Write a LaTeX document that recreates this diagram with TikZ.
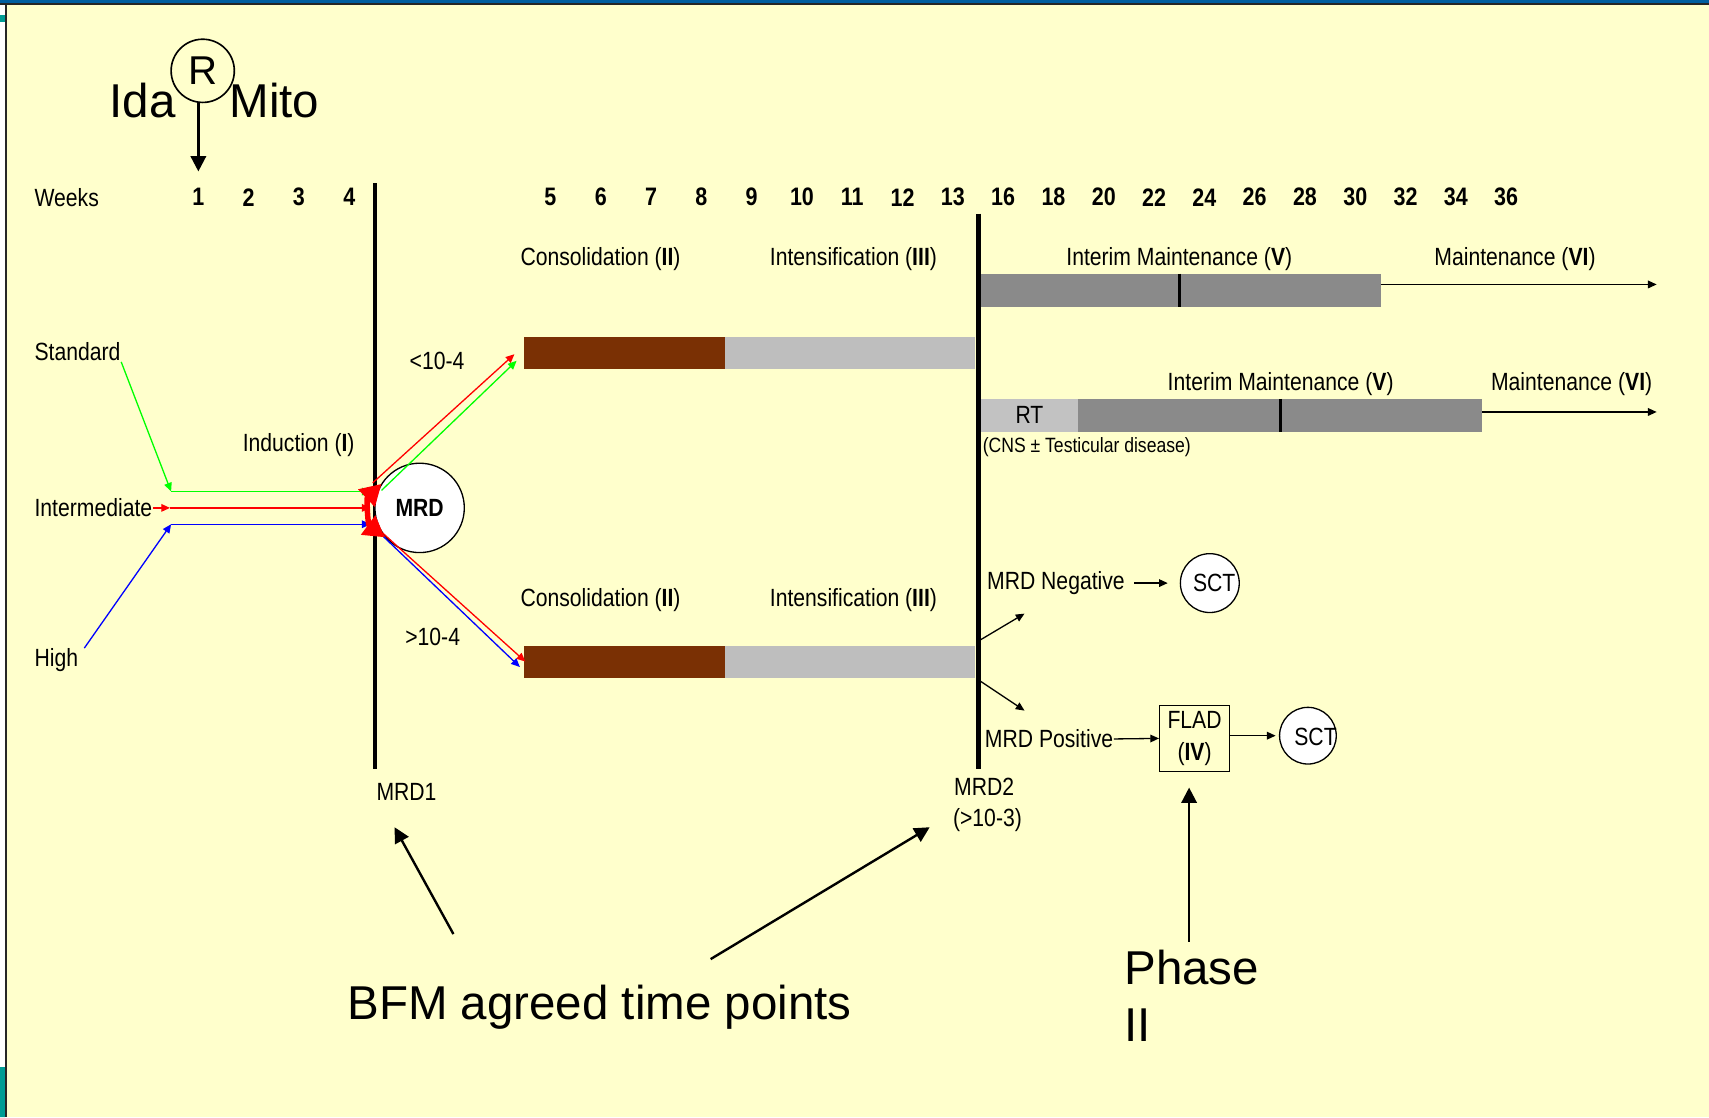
\documentclass[tikz,border=0pt]{standalone}
\usepackage{fontspec}
\setmainfont{Liberation Sans}
\newfontfamily\narrowsf{Liberation Sans}[FakeStretch=0.85]
\usetikzlibrary{arrows.meta}

\definecolor{paper}{RGB}{255,255,204}
\definecolor{slideblue}{RGB}{0,94,160}
\definecolor{slideteal}{RGB}{0,156,148}
\definecolor{brownbar}{RGB}{122,48,4}
\definecolor{lightbar}{RGB}{190,190,190}
\definecolor{darkbar}{RGB}{138,138,138}
\definecolor{rtgray}{RGB}{194,194,194}

\tikzset{
  lbl/.style={font=\narrowsf\fontsize{6.5}{7.5}\selectfont, inner sep=0pt},
  wk/.style={font=\narrowsf\bfseries\fontsize{6.6}{7.5}\selectfont, inner sep=0pt},
  bigtxt/.style={font=\fontsize{12.4}{14.8}\selectfont, inner sep=0pt},
  tip/.style={-{Triangle[length=0.8mm,width=0.7mm]}, line width=0.12mm},
  bigtip/.style={-{Triangle[length=1.4mm,width=1.4mm]}, line width=0.22mm},
  bar/.style={anchor=north west, inner sep=0pt, outer sep=0pt, minimum height=3mm},
  mrdline/.style={line width=0.42mm},
  tick/.style={line width=0.3mm},
  bubble/.style={circle, draw, fill=white, inner sep=0pt, line width=0.12mm},
}

\begin{document}
\begin{tikzpicture}[x=0.1mm,y=-0.1mm]
\useasboundingbox (0,0) rectangle (1568,1025);
\fill[paper] (0,0) rectangle (1568,1025);
% slide frame
\fill[slideblue] (0,0) rectangle (1568,2.8);
\fill[black!85] (0,2.8) rectangle (1568,4.6);
\fill[white] (0,4.6) rectangle (4.4,1025);
\fill[black!85] (4.4,4.6) rectangle (6.6,1025);
\fill[slideteal] (0,14) rectangle (4.4,20) (0,979) rectangle (4.4,1025);

% randomisation
\node[circle, draw, line width=0.15mm, minimum size=5.8mm, inner sep=0pt,
      font=\fontsize{10.5}{12}\selectfont] (R) at (186,65) {R};
\node[bigtxt, anchor=base west] (ida) at (100,108) {Ida};
\node[bigtxt, anchor=base west] (mito) at (210,108) {Mito};

% week scale
\node[lbl, anchor=west] (weeks) at (31,181) {Weeks};
\foreach \w/\s in {1/0,2/1,3/2,4/3,5/7,6/8,7/9,8/10,9/11,10/12,11/13,12/14,13/15,
                   16/16,18/17,20/18,22/19,24/20,26/21,28/22,30/23,32/24,34/25,36/26}
  \node[wk] (w\w) at (182+46.15*\s,181) {\w};
\draw[bigtip] (R.south -| w1) -- ([yshift=1.5mm]w1.north);

% time points
\coordinate (m1top) at (344,168); \coordinate (m1bot) at (344,706);
\coordinate (m2top) at (898,196); \coordinate (m2bot) at (898,706);
\draw[mrdline] (m1top) -- (m1bot);
\draw[mrdline] (m2top) -- (m2bot);
\node[lbl] (mrd1) at (373,727) {MRD1};
\node[lbl] (mrd2) at (903,722) {MRD2};
\node[lbl] (mrd2b) at (906,752) {(>10-3)};

% treatment bars
\node[bar, fill=brownbar, minimum width=18.4mm] (cons1) at (481,309) {};
\node[bar, fill=lightbar, minimum width=23mm] (int1) at (665,309) {};
\node[bar, fill=brownbar, minimum width=18.4mm, minimum height=2.9mm] (cons2) at (481,593) {};
\node[bar, fill=lightbar, minimum width=23mm, minimum height=2.9mm] (int2) at (665,593) {};
\node[bar, fill=darkbar, minimum width=36.7mm, minimum height=3.1mm] (im1) at (900,251) {};
\node[bar, lbl, fill=rtgray, minimum width=8.9mm, minimum height=3mm] (rt) at (900,366) {RT};
\node[bar, fill=darkbar, minimum width=37.1mm] (im2) at (989,366) {};
\draw[tick] ([xshift=18.2mm]im1.north west) -- ([xshift=18.2mm]im1.south west);
\draw[tick] ([xshift=18.6mm]im2.north west) -- ([xshift=18.6mm]im2.south west);
\coordinate (end1) at (1520,261);
\coordinate (end2) at (1520,378);
\draw[tip] (im1.east |- end1) -- (end1);
\draw[tip] (im2.east |- end2) -- (end2);

\node[lbl] (lcons1) at (551,238) {Consolidation (\textbf{II})};
\node[lbl] (lint1) at (783,238) {Intensification (\textbf{III})};
\node[lbl] (lcons2) at (551,551) {Consolidation (\textbf{II})};
\node[lbl] (lint2) at (783,551) {Intensification (\textbf{III})};
\node[lbl] (lim1) at (1082,238) {Interim Maintenance (\textbf{V})};
\node[lbl] (lmt1) at (1390,238) {Maintenance (\textbf{VI})};
\node[lbl] (lim2) at (1175,352) {Interim Maintenance (\textbf{V})};
\node[lbl] (lmt2) at (1442,352) {Maintenance (\textbf{VI})};
\node[lbl, font=\narrowsf\fontsize{5.4}{6.5}\selectfont, anchor=west] (cns) at (901,410)
  {(CNS ± Testicular disease)};

% risk groups into induction
\node[lbl, anchor=west] (std) at (31,323) {Standard};
\node[lbl, anchor=west] (inter) at (31,466) {Intermediate};
\node[lbl, anchor=west] (high) at (31,606) {High};
\node[lbl] (ind) at (274,408) {Induction (\textbf{I})};
\coordinate (g1) at (157,451); \coordinate (g2) at (340,451);
\coordinate (r1) at (156,466); \coordinate (r2) at (340,466);
\coordinate (b1) at (157,481); \coordinate (b2) at (340,481);
\draw[tip, green] (std.south east) -- (g1);
\draw[tip, green] (g1) -- (g2);
\draw[tip, red] (inter.east) -- (r1);
\draw[tip, red] (r1) -- (r2);
\draw[tip, blue] ([xshift=0.5mm]high.north east) -- (b1);
\draw[tip, blue] (b1) -- (b2);

% MRD1 split
\node[bubble, minimum size=8.2mm, font=\narrowsf\bfseries\fontsize{6.5}{7.5}\selectfont] (mrd) at (385,466) {MRD};
\coordinate (ru0) at (342,443); \coordinate (ru1) at (472,325);
\coordinate (gu0) at (350,450); \coordinate (gu1) at (474,331);
\coordinate (bd0) at (341,482); \coordinate (bd1) at (477,612);
\coordinate (rd0) at (351,489); \coordinate (rd1) at (482,607);
\draw[tip, red] (ru0) -- (ru1);
\draw[tip, green] (gu0) -- (gu1);
\draw[tip, blue] (bd0) -- (bd1);
\draw[tip, red] (rd0) -- (rd1);
\draw[red, line width=0.5mm, {Triangle[length=1.9mm,width=2.1mm]}-{Triangle[length=1.9mm,width=2.1mm]}]
  (350,444) to[bend right=50] (353,493);
\node[lbl] (lt) at (401,331) {<10-4};
\node[lbl] (gt) at (397,584) {>10-4};

% MRD2 split
\coordinate (n0) at (898,588); \coordinate (n1) at (940,563);
\coordinate (p0) at (898,624); \coordinate (p1) at (940,652);
\draw[tip] (n0) -- (n1);
\draw[tip] (p0) -- (p1);
\node[lbl, anchor=west] (neg) at (905,535) {MRD Negative};
\node[bubble, minimum size=5.4mm] (sct1) at (1110,535) {};
\node[lbl] (sct1t) at (1114,535) {SCT};
\draw[tip] ([xshift=0.8mm]neg.east) -- ([xshift=-1.1mm]sct1.west);
\node[lbl, anchor=west] (pos) at (903,678) {MRD Positive};
\node[draw, line width=0.12mm, minimum width=6.4mm, minimum height=6.1mm, inner sep=0pt, align=center,
      font=\narrowsf\fontsize{6.5}{8.5}\selectfont] (flad) at (1096,677.5) {FLAD\\(\textbf{IV})};
\draw[tip] (pos.east) -- (flad.west);
\node[bubble, minimum size=5.2mm] (sct2) at (1200,675) {};
\node[lbl] (sct2t) at (1207,676) {SCT};
\draw[tip] (flad.east |- sct2) -- ([xshift=-0.3mm]sct2.west);

% captions
\node[bigtxt, anchor=north west, align=left] (phase) at (1031,871) {Phase\\II};
\coordinate (ph0) at (1091,864);
\draw[bigtip] (ph0) -- ([yshift=-1.4mm]ph0 |- flad.south);
\node[bigtxt, anchor=base west] (bfm) at (318,935) {BFM agreed time points};
\coordinate (f1) at (416,857); \coordinate (t1) at (362,759);
\coordinate (f2) at (652,880); \coordinate (t2) at (853,759);
\draw[bigtip] (f1) -- (t1);
\draw[bigtip] (f2) -- (t2);
\end{tikzpicture}
\end{document}
